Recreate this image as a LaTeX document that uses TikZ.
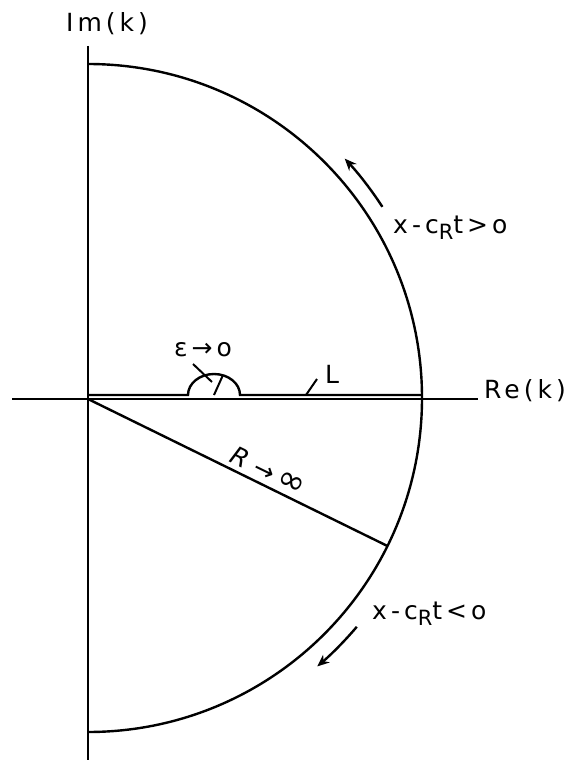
\documentclass[tikz,border=0pt]{standalone}
\usepackage{fontspec}
\setmainfont{DejaVu Sans}
\newfontfamily\lettering[LetterSpace=16]{DejaVu Sans}
\usetikzlibrary{arrows.meta}
\newcommand{\subR}{\raisebox{-0.45ex}{\fontsize{21}{21}\selectfont R}}
\begin{document}
\begin{tikzpicture}[x=1pt,y=-1pt, line width=2.4pt,
  lab/.style={font=\lettering\fontsize{25}{28}\selectfont, inner sep=0pt},
  ax/.style={line width=2.8pt},
  thinl/.style={line width=2pt},
  arr/.style={line width=2.4pt,-{Stealth[length=12pt,width=10pt]}}]
\useasboundingbox (0,0) rectangle (569,760);
\coordinate (O) at (88,399);
\coordinate (C) at (88,398);
\coordinate (Ytop) at (88,46);
\coordinate (Ybot) at (88,760);
\coordinate (Xl) at (12,399);
\coordinate (Xr) at (478,399);
\coordinate (Cs) at (214,395);
% axes
\draw[ax] (Ytop) -- (Ybot);
\draw[ax] (Xl) -- (Xr);
\node[lab, anchor=west] (re) at (483,391) {Re(k)};
\node[lab] (im) at (107,24) {Im(k)};
% contour along real axis with indentation
\draw (88,395) -- (188,395) arc[start angle=180,end angle=360,x radius=26,y radius=21] -- (422,395);
% large arc
\draw ([shift={(-90:334)}]C) arc[start angle=-90,end angle=90,radius=334];
% radius line
\coordinate (Rend) at ([shift={(26.3:334)}]C);
\draw (O) -- (Rend);
% small radius and leader lines
\coordinate (eps1) at (193,364);
\coordinate (eps2) at (212,382);
\draw[thinl] (eps1) -- (eps2);
\draw[thinl] (Cs) -- ([shift={(-70:26 and 21)}]Cs);
\coordinate (L1) at (306,395);
\coordinate (L2) at (317,379);
\draw[thinl] (L1) -- (L2);
% labels
\node[lab] (eps) at (203,350) {ε→o};
\node[lab] (L) at (332,374) {L};
\node[lab, rotate=-26] (R) at (268,471) {\textit{R}\,→\,{\fontsize{34}{34}\selectfont∞}};
\node[lab, anchor=west] (pos) at (392,228) {x-c\subR t>o};
\node[lab, anchor=west] (neg) at (371,614) {x-c\subR t<o};
% direction arrows
\draw[arr] ([shift={(-33:351)}]C) arc[start angle=-33,end angle=-43,radius=351];
\draw[arr] ([shift={(40.4:353)}]C) arc[start angle=40.4,end angle=49.5,radius=353];
\end{tikzpicture}
\end{document}
